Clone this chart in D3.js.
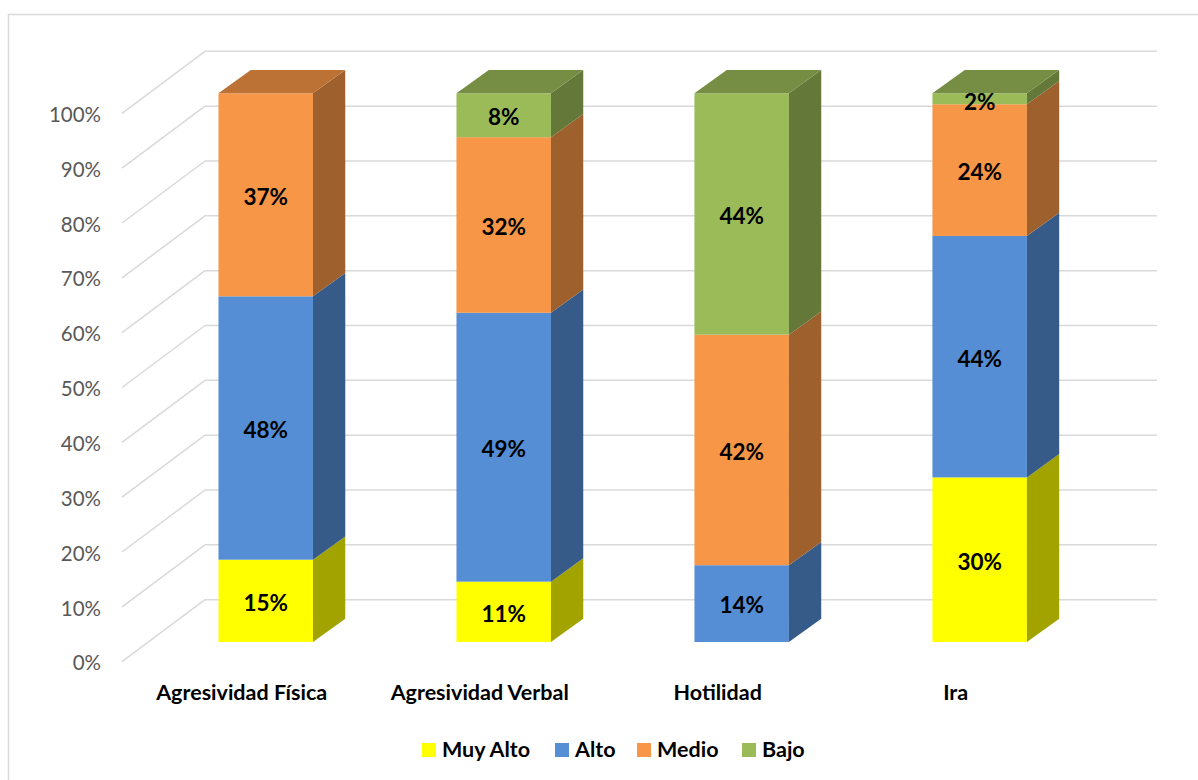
<!DOCTYPE html>
<html>
<head>
<meta charset="utf-8">
<script src="https://cdn.jsdelivr.net/npm/d3@7"></script>
<style>
  body { margin: 0; background: #fff; }
  text { font-family: Lato, "Open Sans", sans-serif; }
</style>
</head>
<body>
<div id="chart"></div>
<script>
// Data
const categories = ['Agresividad Física', 'Agresividad Verbal', 'Hotilidad', 'Ira'];
const levels = ['Muy Alto', 'Alto', 'Medio', 'Bajo'];
const muyAlto = [15, 11, 0, 30];
const alto = [48, 49, 14, 44];
const medio = [37, 32, 42, 24];
const bajo = [0, 8, 44, 2];
const yTicks = [0, 10, 20, 30, 40, 50, 60, 70, 80, 90, 100];

const colors = ['#FFFF00', '#558ED5', '#F79646', '#9BBB59'];

const W = 1198, H = 780;
const svg = d3.select('#chart').append('svg')
    .attr('width', W)
    .attr('height', H);

// outer border
svg.append('rect')
    .attr('x', 8.5).attr('y', 14.5)
    .attr('width', 1200).attr('height', 800)
    .attr('fill', '#fff')
    .attr('stroke', '#D9D9D9')
    .attr('stroke-width', 1.5);

// scales
const yAxis = d3.scaleLinear().domain([0, 100]).range([661.7, 113.3]); // left edge of side wall
const yFront = d3.scaleLinear().domain([0, 100]).range([642, 93.3]);   // bar front faces
const wallDx = 83, wallDy = -62;
const wallX0 = 122, wallX1 = 1157;
const depthX = 32.3, depthY = -23.3;

const x = d3.scaleBand()
    .domain(categories)
    .range([147.1, 1098.3])
    .paddingInner(0.603)
    .paddingOuter(0.3);

// back wall gridlines
svg.append('g').selectAll('line.back')
    .data(yTicks)
    .enter().append('line')
    .attr('x1', wallX0 + wallDx).attr('x2', wallX1)
    .attr('y1', d => yAxis(d) + wallDy).attr('y2', d => yAxis(d) + wallDy)
    .attr('stroke', '#D9D9D9').attr('stroke-width', 1.5);

// side wall diagonals
svg.append('g').selectAll('line.side')
    .data(yTicks)
    .enter().append('line')
    .attr('x1', wallX0).attr('x2', wallX0 + wallDx)
    .attr('y1', d => yAxis(d)).attr('y2', d => yAxis(d) + wallDy)
    .attr('stroke', '#D9D9D9').attr('stroke-width', 1.5);

// y tick labels
svg.append('g').selectAll('text')
    .data(yTicks)
    .enter().append('text')
    .attr('x', 101)
    .attr('y', d => yAxis(d) + 1.5)
    .attr('dy', '0.35em')
    .attr('text-anchor', 'end')
    .style('font-size', '20.5px')
    .style('fill', '#595959')
    .text(d => d + '%');

// stack data
const series = [muyAlto, alto, medio, bajo];
const rows = categories.map((c, i) => {
    let acc = 0;
    return series.map((s, k) => {
        const seg = { cat: c, level: levels[k], k: k, v: s[i], y0: acc, y1: acc + s[i] };
        acc += s[i];
        return seg;
    }).filter(d => d.v > 0);
});

const shade = (c, f) => {
    const r = d3.rgb(c);
    return d3.rgb(r.r * f, r.g * f, r.b * f).formatHex();
};

const bars = svg.append('g');
rows.forEach(segs => {
    segs.forEach((d, j) => {
        const xl = x(d.cat), xr = x(d.cat) + x.bandwidth();
        const yb = yFront(d.y0), yt = yFront(d.y1);
        // front
        bars.append('rect')
            .attr('x', xl).attr('y', yt)
            .attr('width', xr - xl).attr('height', yb - yt)
            .attr('fill', colors[d.k]);
        // side
        bars.append('path')
            .attr('d', `M${xr},${yb}L${xr},${yt}L${xr + depthX},${yt + depthY}L${xr + depthX},${yb + depthY}Z`)
            .attr('fill', shade(colors[d.k], 0.64));
        // top (only on the topmost segment)
        if (j === segs.length - 1) {
            bars.append('path')
                .attr('d', `M${xl},${yt}L${xl + depthX},${yt + depthY}L${xr + depthX},${yt + depthY}L${xr},${yt}Z`)
                .attr('fill', shade(colors[d.k], 0.76));
        }
    });
});

// data labels
rows.forEach(segs => {
    svg.append('g').selectAll('text')
        .data(segs)
        .enter().append('text')
        .attr('x', d => x(d.cat) + x.bandwidth() / 2)
        .attr('y', d => d.v < 4 ? yFront(d.y1) + 9 : (yFront(d.y0) + yFront(d.y1)) / 2 + 2)
        .attr('dy', '0.35em')
        .attr('text-anchor', 'middle')
        .style('font-size', '22.5px')
        .style('font-weight', 'bold')
        .style('fill', '#000')
        .text(d => d.v + '%');
});

// category labels
svg.append('g').selectAll('text')
    .data(categories)
    .enter().append('text')
    .attr('x', d => x(d) + x.bandwidth() / 2 - 24)
    .attr('y', 700)
    .attr('text-anchor', 'middle')
    .style('font-size', '21.5px')
    .style('font-weight', 'bold')
    .style('fill', '#000')
    .text(d => d);

// legend
const legendX = [422, 555, 637, 742];
const legend = svg.append('g');
levels.forEach((l, i) => {
    legend.append('rect')
        .attr('x', legendX[i]).attr('y', 743)
        .attr('width', 14).attr('height', 14)
        .attr('fill', colors[i]);
    legend.append('text')
        .attr('x', legendX[i] + 20).attr('y', 757)
        .style('font-size', '21.5px')
        .style('font-weight', 'bold')
        .style('fill', '#000')
        .text(l);
});
</script>
</body>
</html>
